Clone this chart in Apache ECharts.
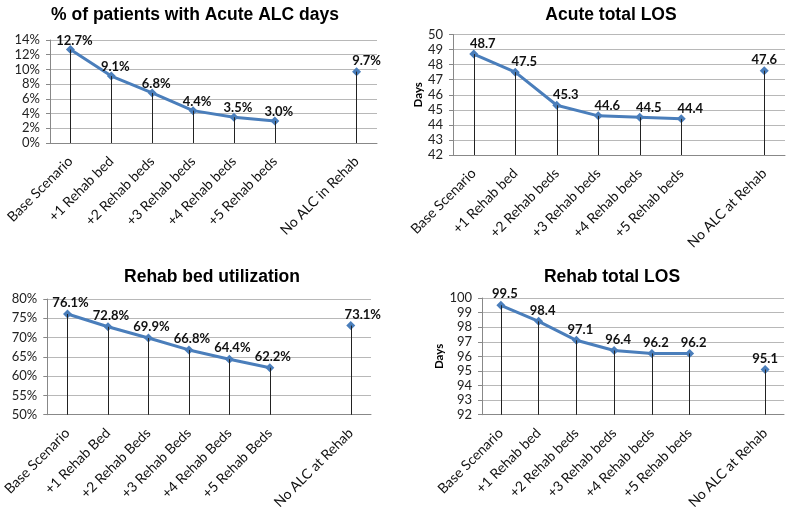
<!DOCTYPE html>
<html>
<head>
<meta charset="utf-8">
<script src="https://cdn.jsdelivr.net/npm/echarts@6/dist/echarts.min.js"></script>
<style>
html,body{margin:0;padding:0;background:#fff;}
#c{width:788px;height:512px;}
</style>
</head>
<body>
<div id="c"></div>
<script>
// ---- data ----
const catsAlc = ['Base Scenario','+1 Rehab bed','+2 Rehab beds','+3 Rehab beds','+4 Rehab beds','+5 Rehab beds','','No ALC in Rehab'];
const catsAcute = ['Base Scenario','+1 Rehab bed','+2 Rehab beds','+3 Rehab beds','+4 Rehab beds','+5 Rehab beds','','No ALC at Rehab'];
const catsUtil = ['Base Scenario','+1 Rehab Bed','+2 Rehab Beds','+3 Rehab Beds','+4 Rehab Beds','+5 Rehab Beds','','No ALC at Rehab'];
const catsRehab = ['Base Scenario','+1 Rehab bed','+2 Rehab beds','+3 Rehab beds','+4 Rehab beds','+5 Rehab beds','','No ALC at Rehab'];

const valsAlc = [12.7, 9.1, 6.8, 4.4, 3.5, 3.0, null, 9.7];
const valsAcute = [48.7, 47.5, 45.3, 44.6, 44.5, 44.4, null, 47.6];
const valsUtil = [76.1, 72.8, 69.9, 66.8, 64.4, 62.2, null, 73.1];
const valsRehab = [99.5, 98.4, 97.1, 96.4, 96.2, 96.2, null, 95.1];

const titles = ['% of patients with Acute ALC days','Acute total LOS','Rehab bed utilization','Rehab total LOS'];
const axisRanges = [[0,14,2],[42,50,1],[50,80,5],[92,100,1]];
const axisNames = ['', 'Days', '', 'Days'];
const units = ['%', '', '%', ''];

// ---- layout / style ----
const FONT = '"Liberation Sans", Arial, sans-serif';
const LFONT = 'Lato, "Liberation Sans", Arial, sans-serif';
const grids = [
  {left:50, top:40, width:327, height:103},
  {left:453, top:34.5, width:332, height:120.5},
  {left:46, top:299, width:325, height:116},
  {left:482, top:298, width:302, height:117}
];
const titlePos = [[190,1],[606,1],[207,263],[607,263]];
const nameGaps = [0, 26, 0, 37];
const labelOffsets = [[4,4],[9,3],[3,2],[4,2]];
const lastLabelOffsets = [[10,2],[0,2],[12,2],[0,2]];

const catsAll = [catsAlc, catsAcute, catsUtil, catsRehab];
const valsAll = [valsAlc, valsAcute, valsUtil, valsRehab];

const option = {
  animation:false,
  backgroundColor:'#fff',
  textStyle:{fontFamily:FONT},
  title:[], grid:[], xAxis:[], yAxis:[], series:[]
};

for (let k=0;k<4;k++){
  const [mn,mx,iv] = axisRanges[k];
  const unit = units[k];
  option.title.push({
    text:titles[k], left:titlePos[k][0], top:titlePos[k][1], textAlign:'center',
    textStyle:{fontFamily:FONT, fontSize:17.5, fontWeight:'bold', color:'#000'}
  });
  option.grid.push(Object.assign({containLabel:false}, grids[k]));
  option.xAxis.push({
    type:'category', gridIndex:k, data:catsAll[k], boundaryGap:true,
    axisLine:{lineStyle:{color:'#888', width:1}},
    axisTick:{show:false},
    axisLabel:{rotate:45, interval:0, fontFamily:LFONT, fontSize:14, color:'#111', margin:16}
  });
  option.yAxis.push({
    type:'value', gridIndex:k, min:mn, max:mx, interval:iv,
    name:axisNames[k], nameLocation:'middle', nameGap:nameGaps[k], nameRotate:90,
    nameTextStyle:{fontFamily:LFONT, fontSize:11.5, fontWeight:'bold', color:'#000'},
    axisLine:{show:true, lineStyle:{color:'#888', width:1}},
    axisTick:{show:true, length:4, lineStyle:{color:'#888'}},
    splitLine:{show:true, lineStyle:{color:'#b8b8b8', width:1}},
    axisLabel:{fontFamily:LFONT, fontSize:13, color:'#222', margin:10,
      formatter: v => v + unit}
  });
  const vals = valsAll[k];
  const drops = [];
  vals.forEach((v,i)=>{
    if (v !== null) drops.push([{coord:[i, mn]},{coord:[i, v]}]);
  });
  const items = vals.map((v,i)=> (i === vals.length-1)
    ? {value:v, label:{offset:lastLabelOffsets[k]}} : v);
  option.series.push({
    type:'line', xAxisIndex:k, yAxisIndex:k, data:items,
    connectNulls:false, showAllSymbol:true,
    symbol:'diamond', symbolSize:9, z:3,
    itemStyle:{color:'#4a7ebb'},
    lineStyle:{color:'#4a7ebb', width:3},
    label:{show:true, position:'top', distance:2, offset:labelOffsets[k],
      fontFamily:LFONT, fontSize:13, fontWeight:'bold', color:'#111',
      formatter: p => (p.value === null || p.value === undefined) ? '' : Number(p.value).toFixed(1) + unit},
    markLine:{
      silent:true, symbol:['none','none'], animation:false,
      lineStyle:{color:'#222', width:1, type:'solid'},
      label:{show:false}, emphasis:{disabled:true},
      data:drops
    }
  });
}

const chart = echarts.init(document.getElementById('c'), null, {renderer:'canvas'});
chart.setOption(option);
</script>
</body>
</html>
